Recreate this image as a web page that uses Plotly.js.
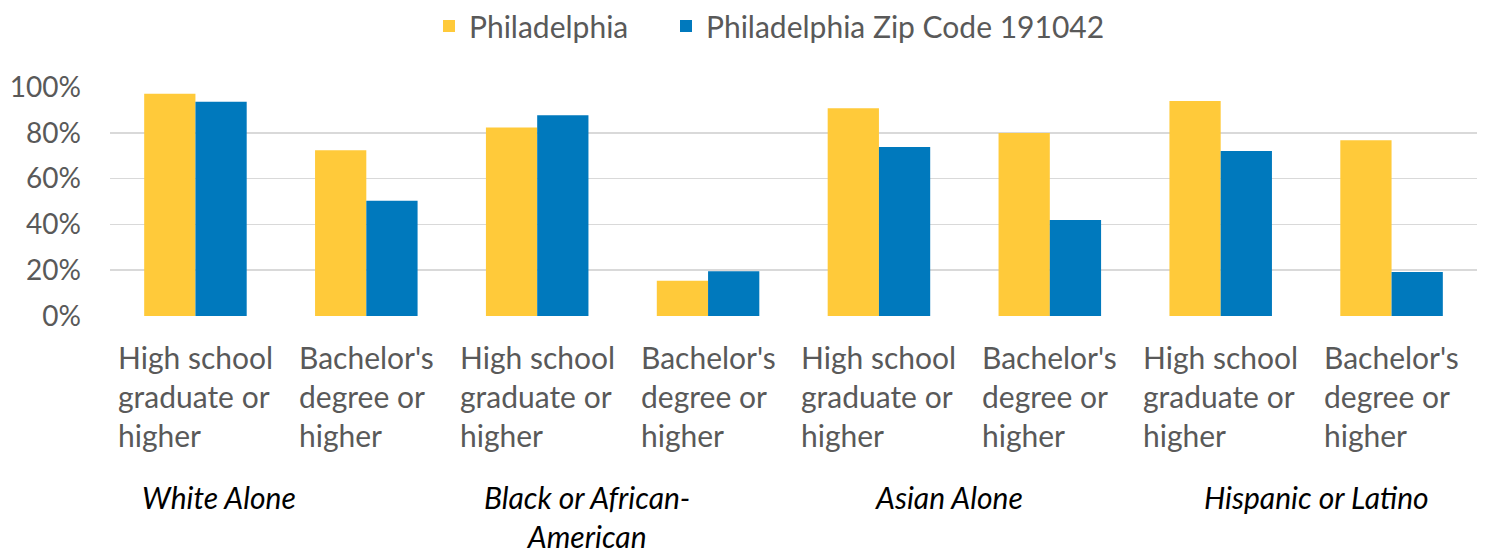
<!DOCTYPE html>
<html>
<head>
<meta charset="utf-8">
<script src="https://cdn.plot.ly/plotly-3.0.1.min.js"></script>
<style>html,body{margin:0;padding:0;background:#fff;}#chart{width:1499px;height:554px;}</style>
</head>
<body>
<div id="chart"></div>
<script>
// ---- data ----
const categoryIds = ["c1","c2","c3","c4","c5","c6","c7","c8"];
const categoryLabels = [
  "High school<br>graduate or<br>higher",
  "Bachelor's<br>degree or<br>higher",
  "High school<br>graduate or<br>higher",
  "Bachelor's<br>degree or<br>higher",
  "High school<br>graduate or<br>higher",
  "Bachelor's<br>degree or<br>higher",
  "High school<br>graduate or<br>higher",
  "Bachelor's<br>degree or<br>higher"
];
const groupLabels = ["White Alone", "Black or African-<br>American", "Asian Alone", "Hispanic or Latino"];
const seriesNames = ["Philadelphia", "Philadelphia Zip Code 191042"];
const philadelphia = [0.971, 0.724, 0.823, 0.154, 0.907, 0.799, 0.939, 0.768];
const zip191042   = [0.936, 0.503, 0.877, 0.195, 0.738, 0.419, 0.721, 0.192];

// ---- layout helpers (positions/styles) ----
const groupLabelX = [0.14, 2.29, 4.41, 6.56];
const FONT = "Lato, 'Open Sans', sans-serif";
const GRAY = "#595959";

const traces = [
  {type:"bar", name:seriesNames[0], x:categoryIds, y:philadelphia, marker:{color:"#FFCA3A"}, hoverinfo:"none", legend:"legend"},
  {type:"bar", name:seriesNames[1], x:categoryIds, y:zip191042, marker:{color:"#0079BD"}, hoverinfo:"none", legend:"legend2"}
];

const annotations = [];
categoryIds.forEach((c,i)=>{
  annotations.push({x:c, xref:"x", y:0, yref:"paper", yanchor:"top", yshift:-21,
    xanchor:"center", align:"left", showarrow:false, text:categoryLabels[i],
    font:{family:FONT, size:30, color:GRAY}});
});
groupLabels.forEach((g,i)=>{
  annotations.push({x:groupLabelX[i], xref:"x", y:0, yref:"paper", yanchor:"top", yshift:-162,
    xanchor:"center", align:"center", showarrow:false, text:"<i>"+g+"</i>", borderpad:0,
    font:{family:FONT, size:30, color:"#000"}});
});

const legendBase = {orientation:"h", xref:"container", xanchor:"left", y:1.0, yanchor:"top", yref:"container",
  font:{family:FONT, size:30, color:GRAY}};

const layout = {
  width:1499, height:554,
  margin:{l:110, r:22, t:87, b:238},
  paper_bgcolor:"#fff", plot_bgcolor:"#fff",
  barmode:"group", bargap:0.4, bargroupgap:0,
  font:{family:FONT, color:GRAY},
  showlegend:true,
  legend:Object.assign({}, legendBase, {x:429/1499}),
  legend2:Object.assign({}, legendBase, {x:666/1499}),
  xaxis:{type:"category", showticklabels:false, showgrid:false, zeroline:false, showline:false, ticks:""},
  yaxis:{range:[0,1], dtick:0.2, tick0:0, tickformat:".0%", showgrid:true, gridcolor:"#d9d9d9", gridwidth:1.5,
    zeroline:false, showline:false, ticks:"", ticklabelstandoff:28,
    tickfont:{family:FONT, size:28, color:GRAY}},
  annotations:annotations
};

Plotly.newPlot("chart", traces, layout, {displayModeBar:false, staticPlot:true});
</script>
</body>
</html>
